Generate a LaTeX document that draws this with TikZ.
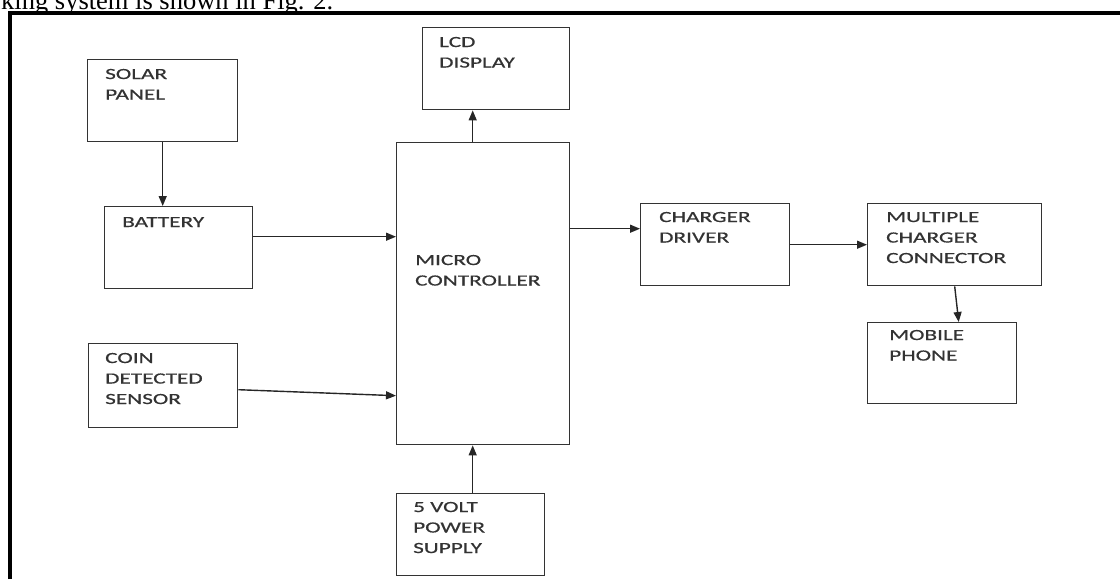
\documentclass[tikz,border=0pt]{standalone}
\usepackage{fontspec}
\newfontfamily\lblfont[FakeStretch=1.5,FakeBold=0.6]{Carlito}
\newfontfamily\capfont{Liberation Serif}
\usetikzlibrary{arrows.meta}
\begin{document}
\begin{tikzpicture}[x=1pt,y=-1pt,
 blk/.style={draw=black!80, line width=1.4pt, inner sep=0pt, anchor=north west},
 lbl/.style={anchor=base west, inner sep=0pt, align=left, text=black!80, font=\lblfont\fontsize{15.5}{20.5}\selectfont},
 arr/.style={draw=black!85, line width=1.4pt, -{Triangle[length=10pt,width=8pt]}}]
\useasboundingbox (0,0) rectangle (1120,579);
\node[anchor=base west, inner sep=0pt, font=\capfont\fontsize{26.5}{30}\selectfont] (cap) at (1,9.5) {king system is shown in Fig. 2.};
\draw[line width=3.5pt] (10,579) -- (10,13) -- (1120,13);
% boxes
\node[blk, minimum width=150pt, minimum height=82pt] (solar) at (87,59) {};
\node[blk, minimum width=148pt, minimum height=82pt] (battery) at (104,206) {};
\node[blk, minimum width=149pt, minimum height=84pt] (coin) at (88,343) {};
\node[blk, minimum width=173pt, minimum height=302pt] (mc) at (396,142) {};
\node[blk, minimum width=147pt, minimum height=82pt] (lcd) at (422,27) {};
\node[blk, minimum width=148pt, minimum height=82pt] (volt) at (396,493) {};
\node[blk, minimum width=149pt, minimum height=82pt] (cd) at (640,203) {};
\node[blk, minimum width=174pt, minimum height=82pt] (mcc) at (867,203) {};
\node[blk, minimum width=149pt, minimum height=81pt] (mob) at (867,322) {};
% labels (anchored at the baseline of their last line)
\node[lbl] (solar-t) at (105,99.5) {SOLAR\\PANEL};
\node[lbl] (battery-t) at (122,227) {BATTERY};
\node[lbl] (coin-t) at (105,404) {COIN\\DETECTED\\SENSOR};
\node[lbl] (mc-t) at (415,285.5) {MICRO\\CONTROLLER};
\node[lbl] (lcd-t) at (439,67.5) {LCD\\DISPLAY};
\node[lbl] (volt-t) at (413,553) {5 VOLT\\POWER\\SUPPLY};
\node[lbl] (cd-t) at (659,242.5) {CHARGER\\DRIVER};
\node[lbl] (mcc-t) at (886,263) {MULTIPLE\\CHARGER\\CONNECTOR};
\node[lbl] (mob-t) at (889,360.5) {MOBILE\\PHONE};
% connectors
\draw[arr] (solar.south) -- (solar.south |- battery.north);
\coordinate (b1) at ([yshift=11pt]battery.east);
\draw[arr] (b1) -- (b1 -| mc.west);
\draw[arr] ([yshift=-4pt]coin.east) -- ([yshift=-102pt]mc.west);
\coordinate (m1) at ([xshift=-10.5pt]mc.north);
\draw[arr] (m1) -- (m1 |- lcd.south);
\coordinate (v1) at ([xshift=2pt]volt.north);
\draw[arr] (v1) -- (v1 |- mc.south);
\coordinate (c1) at ([yshift=16pt]cd.west);
\draw[arr] (c1 -| mc.east) -- (c1);
\draw[arr] (cd.east) -- (mcc.west);
\draw[arr] (mcc.south) -- ([xshift=16.5pt]mob.north);
\end{tikzpicture}
\end{document}
